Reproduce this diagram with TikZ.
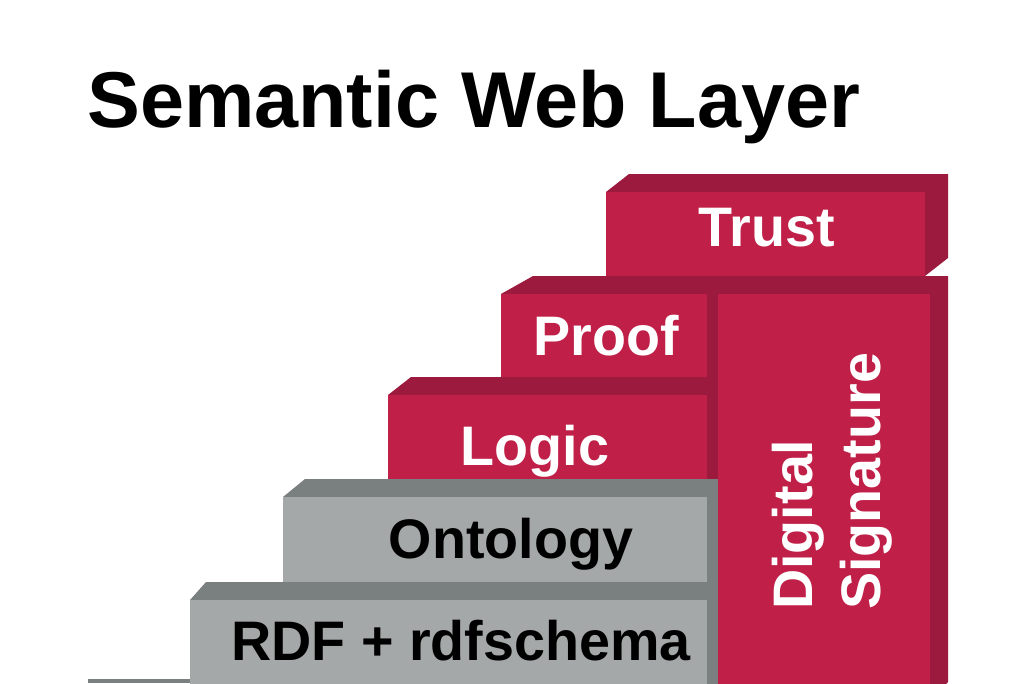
\documentclass[tikz,border=0pt]{standalone}
\usepackage{fontspec}
\setmainfont{Liberation Sans}
\usetikzlibrary{positioning}
\definecolor{layerred}{RGB}{192,31,72}
\definecolor{layerredside}{RGB}{155,26,62}
\definecolor{layergray}{RGB}{165,168,168}
\definecolor{layergrayside}{RGB}{122,127,127}

% one block: front colour, side colour, x1, y1 (front top left), x2, y2 (front bottom right), depth
\newcommand{\layerblock}[7]{%
  \fill[#2] (#3,#4) -- ++(#7,-18) -- (#5+#7,#4-18) -- (#5+#7,#6-18) -- (#5,#6) -- cycle;
  \fill[#1] (#3,#4) rectangle (#5,#6);
}

\begin{document}
\begin{tikzpicture}[x=0.025cm, y=-0.025cm,
    lbl/.style={inner sep=0pt, font=\bfseries\fontsize{39.6}{48}\selectfont},
    title/.style={inner sep=0pt, font=\bfseries\fontsize{56.3}{67}\selectfont}]
    \clip (0,0) rectangle (1024,683);
    % Title
    \node[title, anchor=base west] (head) at (87,128) {Semantic Web Layer};
    % Ground line
    \fill[layergrayside] (88,679) rectangle (720,683);
    % Layers, back to front
    \layerblock{layerred}{layerredside}{606}{192}{925}{276}{23}
    \layerblock{layerred}{layerredside}{501}{294}{707}{396}{32}
    \layerblock{layerred}{layerredside}{388}{395}{707}{497}{23}
    \layerblock{layergray}{layergrayside}{283}{497}{707}{600}{22}
    \layerblock{layergray}{layergrayside}{190}{600}{707}{700}{16}
    \layerblock{layerred}{layerredside}{718}{294}{930}{700}{18}
    % Labels
    \node[lbl, text=white, anchor=base] (trust) at (767,246) {Trust};
    \node[lbl, text=white, anchor=base] (proof) at (606,355) {Proof};
    \node[lbl, text=white, anchor=base] (logic) at (535,465) {Logic};
    \node[lbl, anchor=base] (onto) at (511,558) {Ontology};
    \node[lbl, anchor=base] (rdf) at (461,660) {RDF + rdfschema};
    \node[lbl, text=white, rotate=90, align=left, anchor=west] (sig) at (832,610) {Digital\\Signature};
\end{tikzpicture}
\end{document}
